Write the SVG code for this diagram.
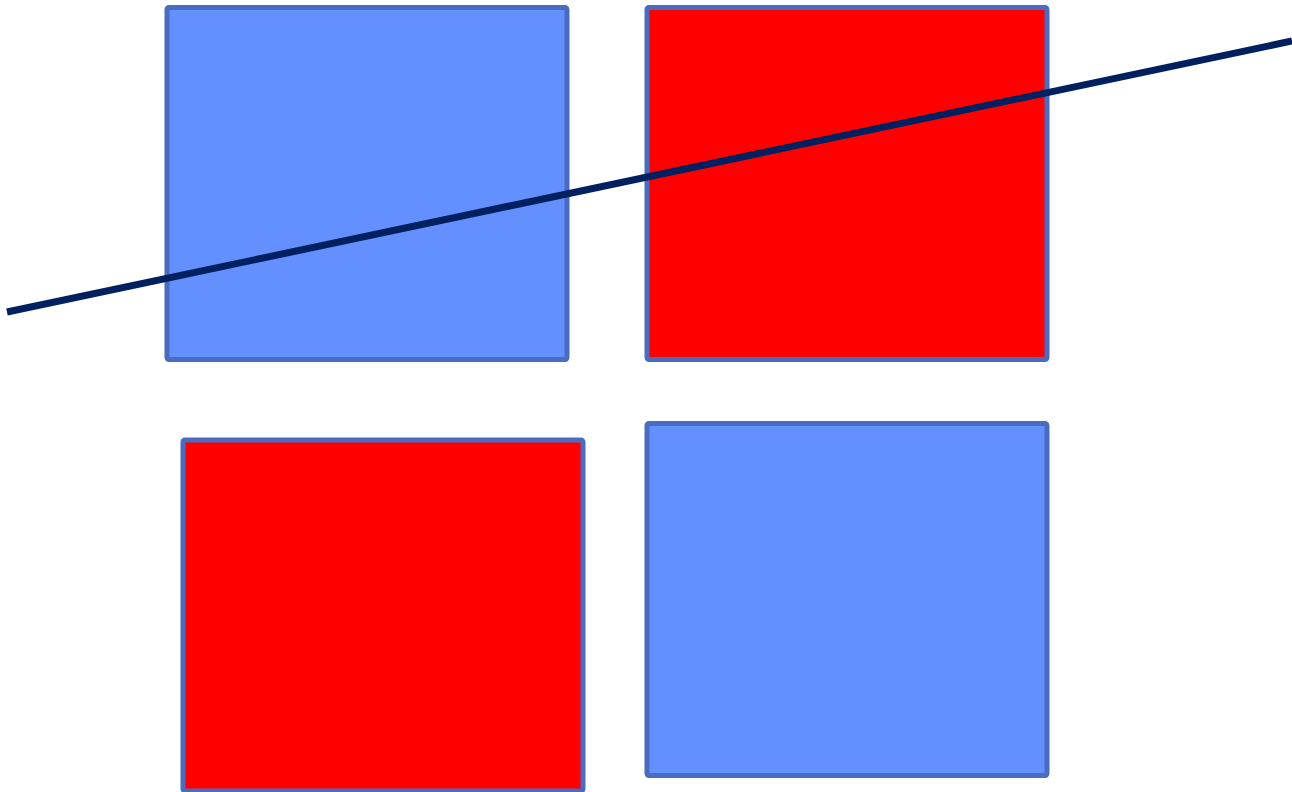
<svg xmlns="http://www.w3.org/2000/svg" width="1292" height="792" viewBox="0 0 1292 792">
<style>
.box{stroke:#4A6CC0;stroke-width:5;stroke-linejoin:round}
.blue{fill:#648FFF}
.red{fill:#FF0000}
.ln{stroke:#002060;stroke-width:7;fill:none}
</style>
<rect width="1292" height="792" fill="#FFFFFF"/>
<g id="box-top-left"><rect class="box blue" x="167" y="7.5" width="400" height="352" rx="2"/></g>
<g id="box-top-right"><rect class="box red" x="647" y="7.5" width="400" height="352" rx="2"/></g>
<g id="box-bottom-left"><rect class="box red" x="183" y="440" width="400" height="351" rx="2"/></g>
<g id="box-bottom-right"><rect class="box blue" x="647" y="423.5" width="400" height="352" rx="2"/></g>
<g id="connectors"><line class="ln" x1="7" y1="312" x2="1292" y2="41"/></g>
</svg>
